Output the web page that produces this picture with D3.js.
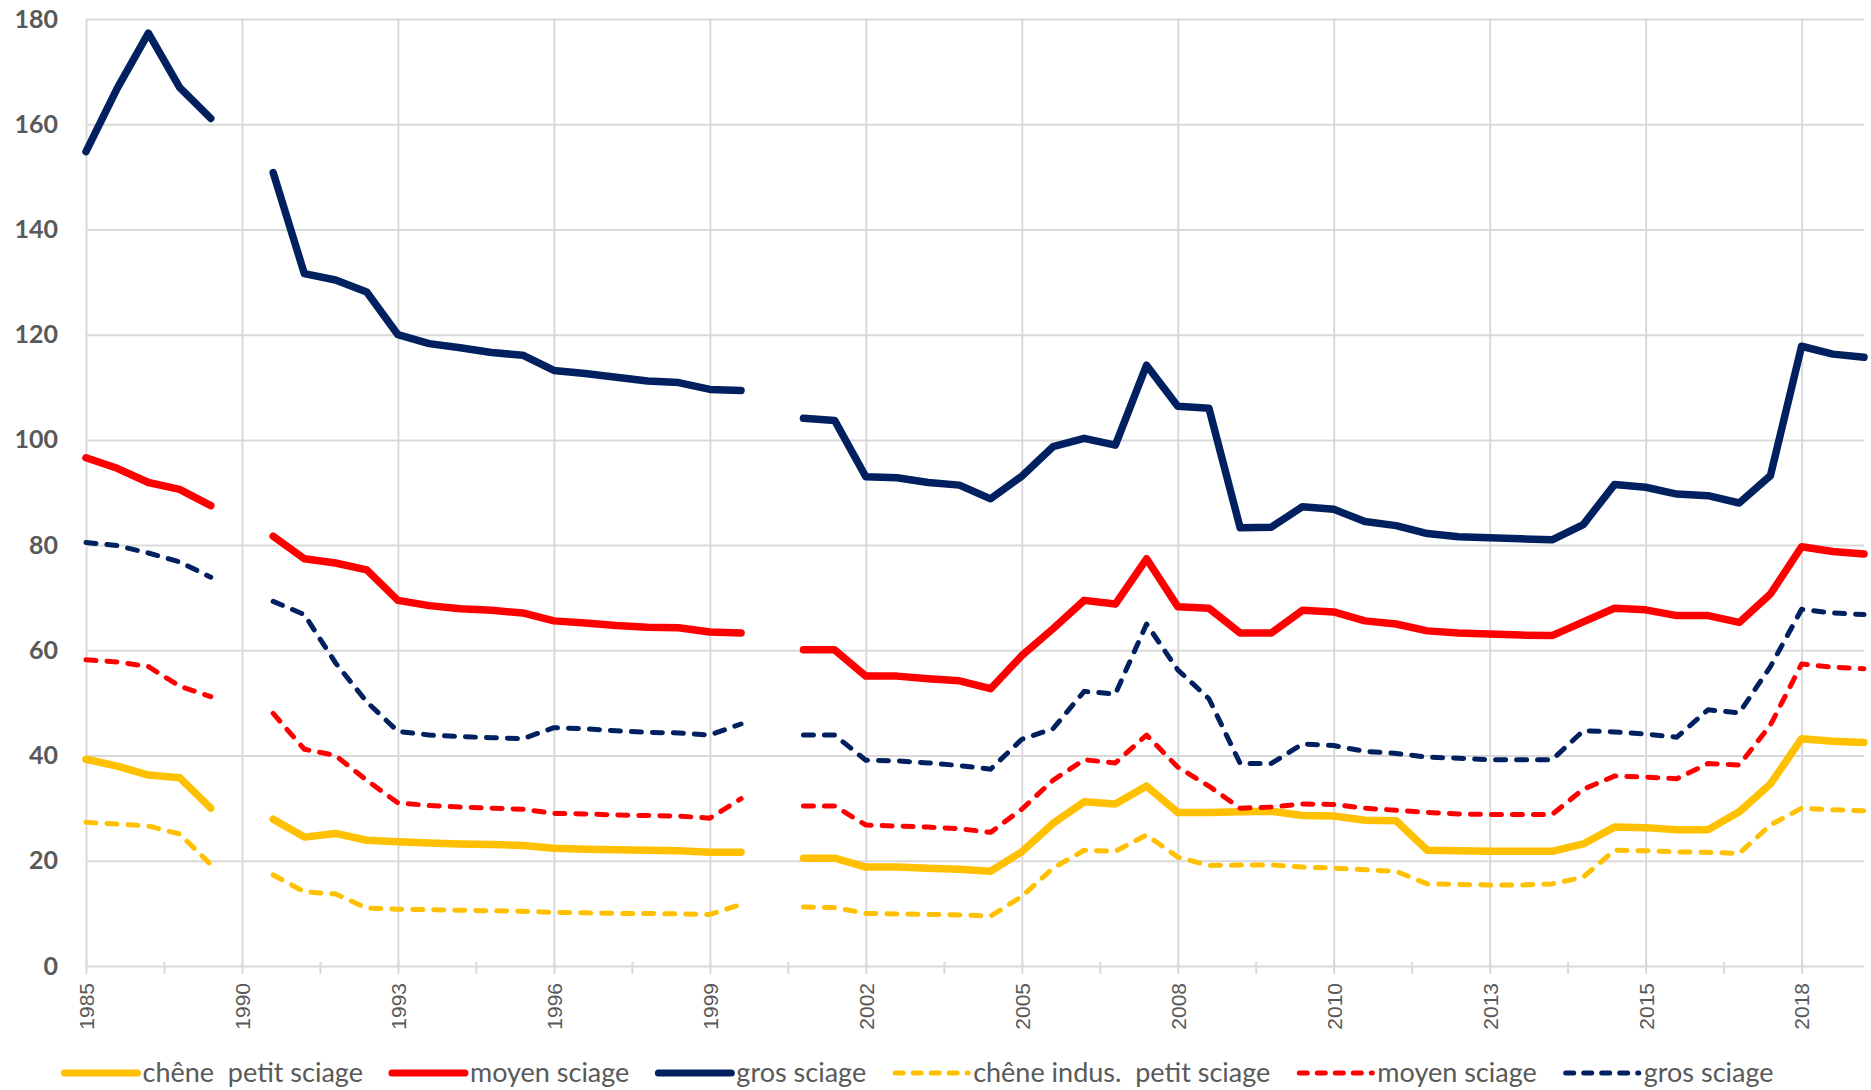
<!DOCTYPE html>
<html>
<head>
<meta charset="utf-8">
<script src="https://cdn.jsdelivr.net/npm/d3@7"></script>
<style>
    body { margin: 0; background: #fff; }
    svg { display: block; }
</style>
</head>
<body>
<script>
// one category per quotation, a year label every 5th category
var yearLabels = ['1985', '1990', '1993', '1996', '1999', '2002', '2005', '2008', '2010', '2013', '2015', '2018'];
var labelStep = 5;
var categoryCount = 58;

var chenePetit = [39.3, 38.0, 36.3, 35.8, 30.0, null, 27.9, 24.5, 25.2, 23.9, 23.6, 23.4, 23.2, 23.1, 22.9, 22.4,
    22.2, 22.1, 22.0, 21.9, 21.6, 21.6, null, 20.5, 20.5, 18.8, 18.8, 18.6, 18.4, 18.0, 21.7, 27.1, 31.2, 30.8, 34.2,
    29.2, 29.2, 29.3, 29.4, 28.6, 28.5, 27.7, 27.6, 22.0, 21.9, 21.8, 21.8, 21.8, 23.2, 26.4, 26.3, 25.9, 25.9, 29.3,
    34.6, 43.2, 42.7, 42.5];
var cheneMoyen = [96.6, 94.6, 91.9, 90.6, 87.5, null, 81.7, 77.4, 76.6, 75.3, 69.5, 68.5, 67.9, 67.6, 67.1, 65.6,
    65.2, 64.7, 64.4, 64.3, 63.5, 63.3, null, 60.1, 60.1, 55.1, 55.1, 54.6, 54.2, 52.7, 59.0, 64.1, 69.5, 68.8, 77.4,
    68.3, 68.0, 63.3, 63.3, 67.6, 67.3, 65.6, 65.0, 63.7, 63.3, 63.1, 62.9, 62.8, 65.4, 68.0, 67.7, 66.6, 66.6, 65.3,
    70.7, 79.7, 78.8, 78.3];
var cheneGros = [154.8, 166.8, 177.3, 167.0, 161.1, null, 150.8, 131.6, 130.4, 128.1, 120.0, 118.3, 117.5, 116.6,
    116.1, 113.2, 112.6, 111.9, 111.2, 110.9, 109.6, 109.4, null, 104.1, 103.7, 93.0, 92.8, 91.9, 91.4, 88.8, 93.1,
    98.7, 100.3, 99.0, 114.2, 106.4, 106.0, 83.3, 83.4, 87.3, 86.8, 84.5, 83.7, 82.2, 81.6, 81.4, 81.2, 81.0, 83.9,
    91.5, 91.0, 89.7, 89.4, 88.0, 93.2, 117.8, 116.3, 115.7];
var indusPetit = [27.3, 27.0, 26.6, 25.1, 19.3, null, 17.3, 14.1, 13.7, 11.0, 10.8, 10.7, 10.6, 10.5, 10.4, 10.2,
    10.1, 10.0, 10.0, 9.9, 9.8, 11.7, null, 11.2, 11.1, 10.0, 9.9, 9.8, 9.7, 9.5, 13.2, 18.6, 22.0, 21.8, 24.9, 20.7,
    19.1, 19.2, 19.2, 18.8, 18.6, 18.3, 18.0, 15.6, 15.5, 15.4, 15.4, 15.6, 16.9, 22.0, 21.9, 21.7, 21.6, 21.4, 26.8,
    30.0, 29.7, 29.5];
var indusMoyen = [58.2, 57.8, 56.9, 53.2, 51.2, null, 48.0, 41.2, 40.0, 35.3, 31.0, 30.5, 30.2, 30.0, 29.8, 29.0,
    28.9, 28.7, 28.6, 28.5, 28.1, 31.8, null, 30.4, 30.4, 26.8, 26.6, 26.4, 26.1, 25.4, 29.8, 35.3, 39.2, 38.6, 43.9,
    37.8, 34.2, 30.0, 30.2, 30.8, 30.7, 30.0, 29.6, 29.2, 28.9, 28.8, 28.8, 28.8, 33.6, 36.1, 35.9, 35.6, 38.5, 38.2,
    45.8, 57.4, 56.8, 56.5];
var indusGros = [80.5, 79.9, 78.5, 76.8, 73.9, null, 69.3, 66.8, 57.6, 50.2, 44.6, 43.9, 43.6, 43.4, 43.2, 45.3,
    45.1, 44.7, 44.4, 44.3, 43.9, 46.0, null, 43.9, 43.9, 39.1, 39.0, 38.6, 38.1, 37.4, 43.1, 45.1, 52.2, 51.7, 65.0,
    56.3, 50.8, 38.5, 38.5, 42.2, 41.9, 40.8, 40.4, 39.7, 39.5, 39.2, 39.2, 39.2, 44.7, 44.5, 44.1, 43.5, 48.7, 48.1,
    56.9, 67.8, 67.1, 66.8];

var series = [
    { name: 'chêne  petit sciage', values: chenePetit, color: '#FFC000', dashed: false },
    { name: 'moyen sciage', values: cheneMoyen, color: '#FF0000', dashed: false },
    { name: 'gros sciage', values: cheneGros, color: '#002060', dashed: false },
    { name: 'chêne indus.  petit sciage', values: indusPetit, color: '#FFC000', dashed: true },
    { name: 'moyen sciage', values: indusMoyen, color: '#FF0000', dashed: true },
    { name: 'gros sciage', values: indusGros, color: '#002060', dashed: true }
];

var W = 1871, H = 1090;
var plotLeft = 86, plotRight = 1864, plotTop = 19, plotBottom = 966;
var grey = '#D9D9D9', textGrey = '#595959';

var svg = d3.select('body').append('svg').attr('width', W).attr('height', H);

var x = d3.scaleLinear().domain([0, categoryCount - 1]).range([plotLeft, plotRight]);
var y = d3.scaleLinear().domain([0, 180]).range([plotBottom, plotTop]);

var majorTicks = yearLabels.map(function(d, i) { return i * labelStep; });
var minorTicks = d3.range(0, categoryCount - 1, labelStep / 2);

// horizontal grid + value labels
var yAxis = svg.append('g').attr('transform', 'translate(' + plotLeft + ',0)')
    .call(d3.axisLeft(y).tickValues(d3.range(0, 181, 20)).tickSize(-(plotRight - plotLeft)).tickPadding(28));
yAxis.select('.domain').remove();
yAxis.selectAll('line').attr('stroke', grey).attr('stroke-width', 2);
yAxis.selectAll('text')
    .attr('fill', textGrey)
    .style('font-family', 'Lato, "Liberation Sans", sans-serif')
    .style('font-size', '25px')
    .style('font-weight', 'bold');

// vertical grid at labelled categories
var xGrid = svg.append('g').attr('transform', 'translate(0,' + plotBottom + ')')
    .call(d3.axisBottom(x).tickValues(majorTicks).tickSize(-(plotBottom - plotTop)).tickFormat(''));
xGrid.select('.domain').remove();
xGrid.selectAll('line').attr('stroke', grey).attr('stroke-width', 2);

// small cross ticks on the category axis
var xTicks = svg.append('g').attr('transform', 'translate(0,' + plotBottom + ')')
    .call(d3.axisBottom(x).tickValues(minorTicks).tickSize(8).tickFormat(''));
xTicks.select('.domain').remove();
xTicks.selectAll('line').attr('y1', -4).attr('stroke', grey).attr('stroke-width', 2);

// rotated year labels
var xLabels = svg.append('g').attr('transform', 'translate(0,' + plotBottom + ')')
    .call(d3.axisBottom(x).tickValues(majorTicks).tickSize(0)
        .tickFormat(function(d) { return yearLabels[d / labelStep]; }));
xLabels.select('.domain').remove();
xLabels.selectAll('text')
    .attr('transform', 'rotate(-90)')
    .attr('text-anchor', 'end')
    .attr('x', -17)
    .attr('y', 0)
    .attr('dy', '0.35em')
    .attr('fill', textGrey)
    .style('font-family', '"Liberation Sans", Arial, sans-serif')
    .style('font-size', '21px');

var line = d3.line()
    .defined(function(d) { return d != null; })
    .x(function(d, i) { return x(i); })
    .y(function(d) { return y(d); });

svg.append('g').selectAll('path').data(series).enter().append('path')
    .attr('d', function(s) { return line(s.values); })
    .attr('fill', 'none')
    .attr('stroke', function(s) { return s.color; })
    .attr('stroke-width', function(s) { return s.dashed ? 5 : 7.5; })
    .attr('stroke-dasharray', function(s) { return s.dashed ? '10,11' : null; })
    .attr('stroke-linecap', 'round')
    .attr('stroke-linejoin', 'round');

// legend, laid out left to right then centred
var legend = svg.append('g');
var items = legend.selectAll('g').data(series).enter().append('g');
items.append('line')
    .attr('x1', 0).attr('x2', 73).attr('y1', 0).attr('y2', 0)
    .attr('stroke', function(s) { return s.color; })
    .attr('stroke-width', function(s) { return s.dashed ? 5 : 7; })
    .attr('stroke-dasharray', function(s) { return s.dashed ? '8,10' : null; })
    .attr('stroke-linecap', 'round');
items.append('text')
    .attr('x', 78)
    .attr('dy', '0.32em')
    .attr('fill', textGrey)
    .style('white-space', 'pre')
    .style('font-family', 'Lato, "Open Sans", sans-serif')
    .style('font-size', '27px')
    .text(function(s) { return s.name; });

var cursor = 0;
items.each(function() {
    var g = d3.select(this);
    g.attr('transform', 'translate(' + cursor + ',0)');
    cursor += 78 + g.select('text').node().getComputedTextLength() + 29;
});
cursor -= 29;
legend.attr('transform', 'translate(' + (919 - cursor / 2) + ',1073)');
</script>
</body>
</html>
